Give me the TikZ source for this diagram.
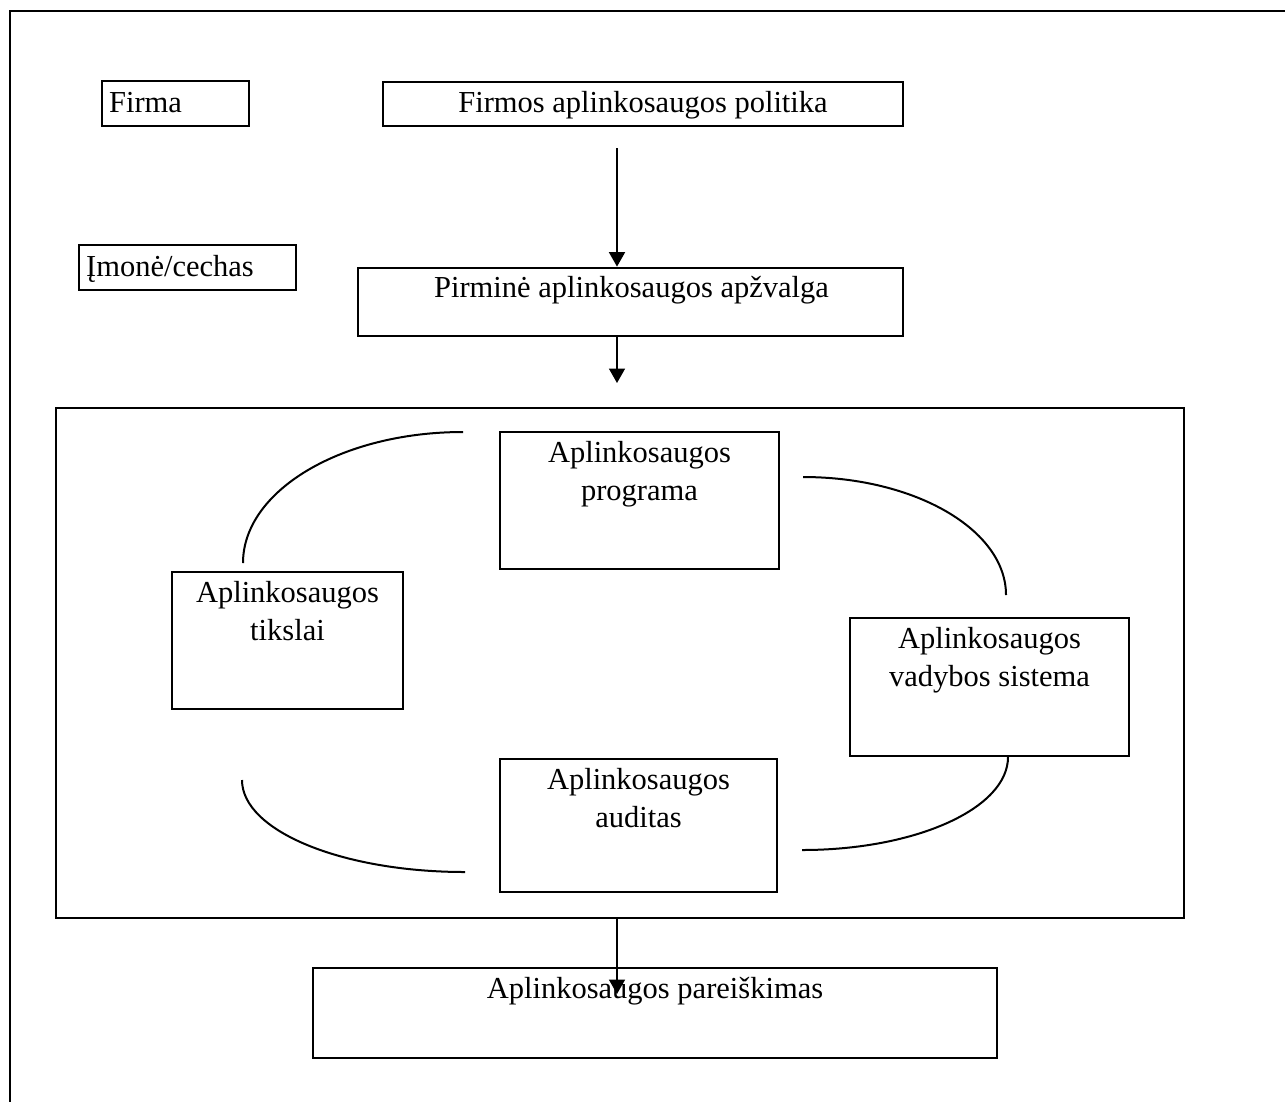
\documentclass[tikz,border=0pt]{standalone}
\usepackage{fontspec}
\setmainfont{Liberation Serif}
\usetikzlibrary{arrows.meta,calc}

\begin{document}
\begin{tikzpicture}[x=0.4pt,y=-0.4pt,
  box/.style={draw,line width=1.1pt,inner sep=0pt},
  wh/.style 2 args={minimum width=#1*0.4pt,minimum height=#2*0.4pt},
  txt/.style={anchor=base,inner sep=0pt,font=\fontsize{12.2}{15.2}\selectfont},
  feed/.style={line width=0.7pt,-{Triangle[length=5.8pt,width=6.4pt]}},
  ring/.style={line width=0.8pt}]
% Page
\useasboundingbox (0,0) rectangle (1285,1101);
\clip (0,0) rectangle (1285,1101);
\fill[white] (0,0) rectangle (1285,1101);
\draw[line width=1.1pt] (10,11) rectangle (1400,1200);
% Levels
\node[box,wh={147}{45}] (firma) at (175.5,103.5) {};
\node[txt,anchor=base west] at ($(firma.north west)+(8,33)$) {Firma};
\node[box,wh={217}{45}] (imone) at (187.5,267.5) {};
\node[txt,anchor=base west] at ($(imone.north west)+(8,33)$) {Įmonė/cechas};
% Top chain
\node[box,wh={520}{44}] (politika) at (643,104) {};
\node[txt] at ($(politika.north)+(0,32)$) {Firmos aplinkosaugos politika};
\node[box,wh={545}{68}] (pirmine) at (630.5,302) {};
\node[txt] at ($(pirmine.north)+(1,31)$) {Pirminė aplinkosaugos apžvalga};
\coordinate (drop1) at (617,148);
\draw[feed] (drop1) -- (drop1 |- pirmine.north);
\coordinate (drop2) at (617,383);
\draw[feed] (drop2 |- pirmine.south) -- (drop2);
% Cycle
\node[box,wh={1128}{510}] (ciklas) at (620,663) {};
\node[box,wh={279}{137}] (programa) at (639.5,500.5) {};
\node[txt] at ($(programa.north)+(0,32)$) {\begin{tabular}[t]{@{}c@{}}Aplinkosaugos\\programa\end{tabular}};
\node[box,wh={231}{137}] (tikslai) at (287.5,640.5) {};
\node[txt] at ($(tikslai.north)+(0,32)$) {\begin{tabular}[t]{@{}c@{}}Aplinkosaugos\\tikslai\end{tabular}};
\node[box,wh={279}{138}] (sistema) at (989.5,687) {};
\node[txt] at ($(sistema.north)+(0,32)$) {\begin{tabular}[t]{@{}c@{}}Aplinkosaugos\\vadybos sistema\end{tabular}};
\node[box,wh={277}{133}] (auditas) at (638.5,825.5) {};
\node[txt] at ($(auditas.north)+(0,32)$) {\begin{tabular}[t]{@{}c@{}}Aplinkosaugos\\auditas\end{tabular}};
\draw[ring] (243,563) arc[start angle=180,end angle=270,x radius=220,y radius=131];
\draw[ring] (803,477) arc[start angle=270,end angle=360,x radius=203,y radius=118];
\draw[ring] (1008,757) arc[start angle=0,end angle=90,x radius=206,y radius=93];
\draw[ring] (242,780) arc[start angle=180,end angle=90,x radius=223,y radius=92];
% Result
\node[box,wh={684}{90}] (pareiskimas) at (655,1013) {};
\node[txt] at ($(pareiskimas.north)+(0,32)$) {Aplinkosaugos pareiškimas};
\coordinate (drop3) at (617,994);
\draw[feed] (drop3 |- ciklas.south) -- (drop3);
\end{tikzpicture}
\end{document}
